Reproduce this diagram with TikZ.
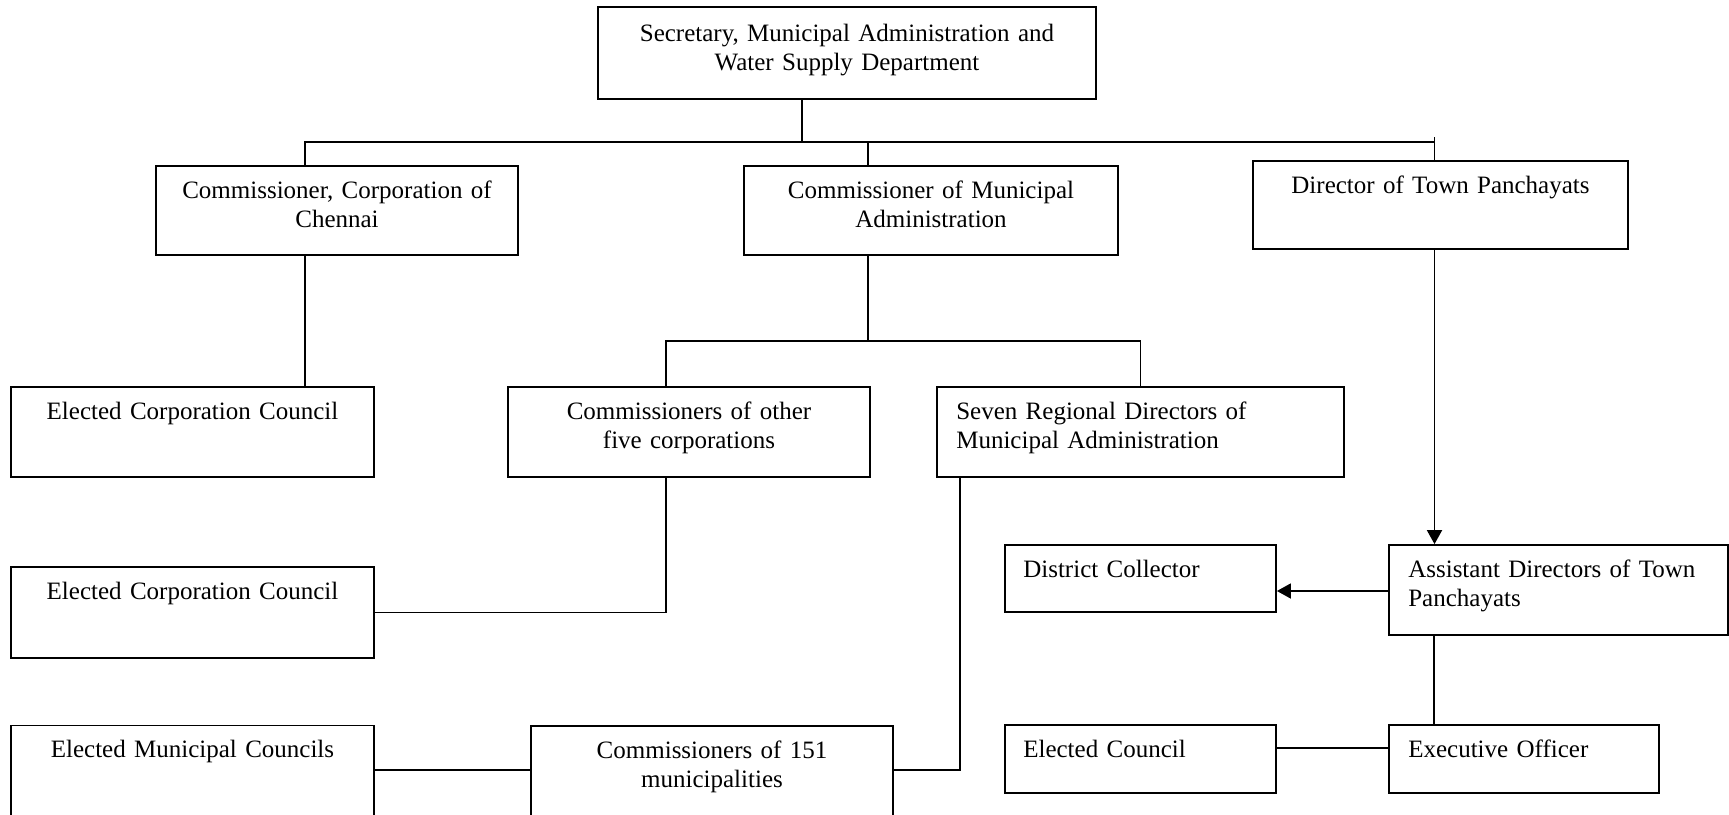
\documentclass[tikz,border=0pt]{standalone}
\usepackage{fontspec}
\setmainfont{Liberation Serif}
\usetikzlibrary{arrows.meta}
\tikzstyle{orgbox} = [rectangle, draw=black, line width=1.8pt, inner sep=0pt]
\tikzstyle{line} = [line width=1.8pt]
\tikzstyle{arrow} = [line width=1.8pt, -{Triangle[length=14pt, width=15pt]}]
\tikzset{
  midtext/.style={anchor=base, inner sep=0pt, align=center, text width=#1, yshift=-33pt},
  lefttext/.style={anchor=base west, inner sep=0pt, align=left, text width=#1, xshift=20pt, yshift=-33pt},
}
\begin{document}
\begin{tikzpicture}[x=1pt, y=-1pt, font=\fontsize{25}{29}\selectfont]
        \useasboundingbox (0,0) rectangle (1729,814);

        \node (sec) [orgbox, minimum width=498pt, minimum height=92pt,
        label={[midtext=498pt, yshift=-2pt]north:{Secretary, Municipal Administration and\\ Water Supply Department}}] at (847,53) {};
        \node (chennai) [orgbox, minimum width=362pt, minimum height=89pt,
        label={[midtext=362pt]north:{Commissioner, Corporation of\\ Chennai}}] at (337,210.5) {};
        \node (cma) [orgbox, minimum width=374pt, minimum height=89pt,
        label={[midtext=374pt]north:{Commissioner of Municipal\\ Administration}}] at (931,210.5) {};
        \node (dtp) [orgbox, minimum width=375pt, minimum height=88pt,
        label={[midtext=375pt]north:{Director of Town Panchayats}}] at (1440.5,205) {};
        \node (ecc1) [orgbox, minimum width=363pt, minimum height=90pt,
        label={[midtext=363pt]north:{Elected Corporation Council}}] at (192.5,432) {};
        \node (other) [orgbox, minimum width=362pt, minimum height=90pt,
        label={[midtext=362pt]north:{Commissioners of other\\ five corporations}}] at (689,432) {};
        \node (seven) [orgbox, minimum width=407pt, minimum height=90pt,
        label={[lefttext=380pt]north west:{Seven Regional Directors of\\ Municipal Administration}}] at (1140.5,432) {};
        \node (ecc2) [orgbox, minimum width=363pt, minimum height=91pt,
        label={[midtext=363pt]north:{Elected Corporation Council}}] at (192.5,612.5) {};
        \node (dc) [orgbox, minimum width=271pt, minimum height=67pt,
        label={[lefttext=250pt, xshift=-1pt]north west:{District Collector}}] at (1140.5,578.5) {};
        \node (adtp) [orgbox, minimum width=339pt, minimum height=90pt,
        label={[lefttext=315pt]north west:{Assistant Directors of Town\\ Panchayats}}] at (1558.5,590) {};
        \node (emc) [orgbox, minimum width=363pt, minimum height=100pt,
        label={[midtext=363pt]north:{Elected Municipal Councils}}] at (192.5,775.5) {};
        \node (c151) [orgbox, minimum width=362pt, minimum height=100pt,
        label={[midtext=362pt]north:{Commissioners of 151\\ municipalities}}] at (712,776) {};
        \node (ec) [orgbox, minimum width=271pt, minimum height=68pt,
        label={[lefttext=250pt, xshift=-1pt]north west:{Elected Council}}] at (1140.5,759) {};
        \node (eo) [orgbox, minimum width=270pt, minimum height=68pt,
        label={[lefttext=250pt]north west:{Executive Officer}}] at (1524,759) {};

        \coordinate (bus) at (802,142);
        \coordinate (subbus) at (868,341);

        \draw [line] ([xshift=-45pt]sec.south) -- (bus);
        \draw [line] ([xshift=-32pt]chennai.north) |- (bus) -| ([xshift=-6pt]dtp.north);
        \draw [line] ([xshift=-6pt]dtp.north) -- ++(0,-23);
        \draw [line] ([xshift=-63pt]cma.north) -- ([xshift=-63pt]cma.north |- bus);
        \draw [line] ([xshift=-32pt]chennai.south) -- ([xshift=-32pt]chennai.south |- ecc1.north);
        \draw [line] ([xshift=-63pt]cma.south) -- (subbus);
        \draw [line] ([xshift=-23pt]other.north) |- (subbus) -| (seven.north);
        \draw [line] ([xshift=-23pt]other.south) |- (ecc2.east);
        \draw [line] ([xshift=-180.5pt]seven.south) |- ([yshift=6pt]c151.east);
        \draw [line] ([yshift=6pt]c151.west) -- ([yshift=6pt]c151.west -| emc.east);
        \draw [arrow] ([xshift=-6pt]dtp.south) -- ([xshift=-6pt]dtp.south |- adtp.north);
        \draw [arrow] ([yshift=-1pt]adtp.west) -- ([yshift=-1pt]adtp.west -| dc.east);
        \draw [line] ([xshift=-90pt]eo.north) -- ([xshift=-90pt]eo.north |- adtp.south);
        \draw [line] ([yshift=11pt]ec.east) -- ([yshift=11pt]eo.west);

    \end{tikzpicture}
\end{document}
